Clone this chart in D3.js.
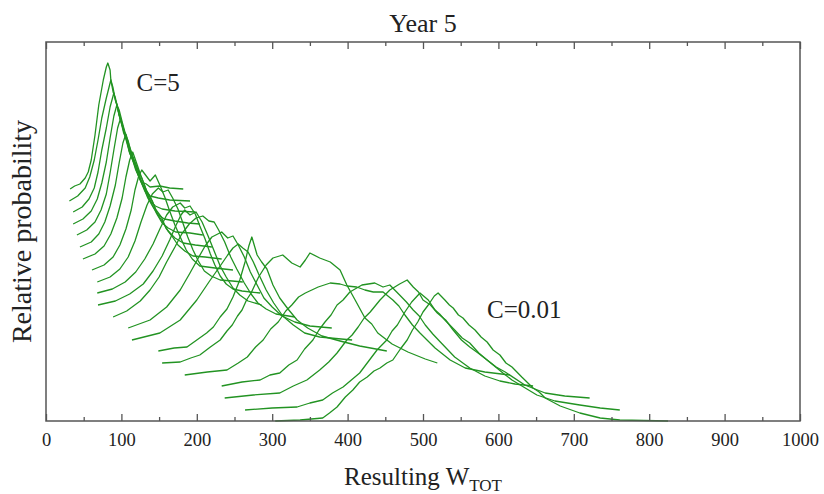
<!DOCTYPE html>
<html>
<head>
<meta charset="utf-8">
<script src="https://cdn.jsdelivr.net/npm/d3@7"></script>
<style>
  body { margin: 0; background: #fff; }
  text { font-family: 'Liberation Serif', 'Times New Roman', serif; fill: #222; }
</style>
</head>
<body>
<div id="chart"></div>
<script>
var margin = { top: 42, left: 46, right: 24, bottom: 73 }
var width = 824 - margin.left - margin.right
var height = 494 - margin.top - margin.bottom

// tick values on the W axis
var xTicks = [0, 100, 200, 300, 400, 500, 600, 700, 800, 900, 1000]
var xMinorTicks = [50, 150, 250, 350, 450, 550, 650, 750, 850, 950]

// vertical offset of each curve (top curve C=5 ... bottom curve C=0.01)
var offsets = [232, 220, 209, 197, 186, 174, 162, 151, 139, 128, 116, 104, 93, 81, 70, 58, 46, 35, 23, 11, 0]

// each curve: [W, relative probability above its own baseline]
var curves = [
  [[32,0],[38,3],[45,5],[52,11],[56,17],[60,29],[65,54],[70,84],[76,109],[80,122],[82,126],[85,119],[86,109],[89,101],[92,89],[94,85],[97,74],[99,69],[103,56],[107,49],[111,36],[115,29],[119,19],[123,13],[127,7],[133,5],[138,2],[151,3],[164,1],[182,0]],
  [[31,0],[42,5],[52,13],[58,24],[64,41],[69,61],[74,83],[80,103],[84,115],[86,121],[89,109],[92,103],[97,86],[103,70],[111,48],[118,36],[125,21],[131,12],[138,5],[149,3],[164,1],[191,0]],
  [[36,0],[48,5],[57,13],[64,24],[69,40],[74,62],[80,84],[85,105],[90,119],[93,109],[97,102],[101,90],[106,76],[111,60],[118,46],[125,32],[131,21],[138,11],[145,6],[154,3],[171,1],[198,0]],
  [[36,0],[49,5],[60,13],[68,25],[74,41],[80,62],[85,86],[90,108],[94,119],[98,106],[103,95],[109,79],[115,66],[122,49],[129,38],[135,26],[142,17],[149,9],[157,5],[171,3],[188,1],[204,0]],
  [[41,0],[54,5],[65,13],[73,25],[80,41],[85,62],[90,85],[95,107],[99,117],[103,105],[109,94],[114,79],[121,67],[127,52],[134,42],[141,30],[147,21],[154,12],[162,7],[172,3],[191,2],[208,0]],
  [[45,0],[60,5],[70,13],[78,25],[85,41],[92,62],[97,84],[102,104],[106,113],[110,102],[115,91],[121,79],[127,69],[134,55],[141,46],[147,34],[154,26],[162,16],[171,9],[182,4],[198,2],[220,0]],
  [[49,0],[65,5],[77,13],[86,25],[94,41],[101,61],[106,82],[111,99],[115,107],[121,94],[126,83],[133,69],[139,61],[146,49],[153,42],[159,31],[167,23],[175,14],[184,8],[195,3],[211,2],[233,0]],
  [[61,0],[77,5],[89,13],[98,25],[106,41],[113,60],[118,80],[123,94],[127,100],[133,94],[138,89],[145,95],[151,85],[158,72],[164,59],[171,45],[178,33],[186,20],[194,11],[204,4],[224,2],[248,0]],
  [[68,0],[85,5],[98,13],[109,25],[118,41],[126,60],[134,77],[141,88],[149,94],[155,90],[162,92],[168,84],[175,73],[182,58],[188,45],[195,32],[202,21],[210,11],[219,6],[231,2],[247,1],[261,0]],
  [[68,0],[88,4],[105,11],[119,21],[131,34],[142,49],[151,64],[160,78],[168,86],[178,90],[184,85],[191,87],[198,79],[204,67],[211,54],[218,39],[224,28],[231,17],[239,9],[248,4],[260,2],[284,0]],
  [[69,0],[92,4],[111,11],[129,21],[142,34],[154,49],[164,65],[172,79],[179,90],[184,95],[191,90],[199,93],[207,83],[215,69],[223,54],[231,39],[239,28],[248,17],[257,10],[268,4],[286,0]],
  [[89,0],[107,6],[125,16],[138,27],[150,40],[160,55],[171,70],[180,83],[190,93],[199,99],[208,101],[216,96],[223,95],[229,87],[237,75],[245,60],[253,48],[263,34],[272,23],[281,14],[292,8],[305,3],[330,0]],
  [[109,0],[138,8],[160,21],[178,38],[191,55],[202,70],[211,82],[220,91],[233,96],[241,90],[248,92],[255,83],[263,71],[271,56],[280,43],[289,30],[300,21],[313,12],[330,6],[350,2],[379,0]],
  [[114,0],[151,7],[178,20],[200,40],[217,59],[231,74],[241,85],[248,92],[255,96],[261,92],[268,88],[275,78],[282,66],[292,50],[302,37],[314,24],[328,15],[343,7],[363,3],[406,0]],
  [[149,0],[170,3],[187,4],[200,11],[213,18],[222,24],[231,34],[240,42],[248,54],[257,71],[264,89],[269,105],[273,114],[280,96],[286,89],[293,82],[301,66],[310,53],[321,42],[333,31],[347,23],[366,15],[390,10],[416,5],[452,0]],
  [[154,0],[178,1],[192,5],[204,8],[218,16],[231,23],[240,32],[247,38],[254,47],[260,53],[266,63],[272,70],[282,86],[292,98],[301,105],[314,108],[326,100],[337,96],[344,103],[350,110],[363,105],[377,101],[390,93],[399,78],[410,63],[423,45],[432,39],[440,30],[459,19],[480,11],[503,4],[519,0]],
  [[184,0],[214,3],[240,5],[255,12],[267,18],[278,28],[288,35],[298,46],[308,53],[318,64],[326,70],[335,78],[344,82],[361,88],[377,92],[390,91],[399,89],[412,88],[423,85],[434,83],[447,83],[460,75],[468,69],[476,60],[486,50],[496,42],[516,27],[536,15],[556,7],[582,3],[615,0]],
  [[233,0],[260,4],[284,6],[297,11],[310,13],[322,21],[333,26],[343,37],[354,46],[362,56],[370,64],[378,71],[386,81],[394,86],[403,94],[419,101],[436,103],[447,99],[456,101],[469,91],[478,84],[487,76],[495,70],[503,61],[513,52],[523,44],[542,29],[562,18],[582,10],[602,5],[622,2],[646,0]],
  [[237,0],[275,3],[310,5],[328,12],[346,18],[363,28],[375,36],[386,45],[399,58],[406,63],[414,71],[422,80],[430,86],[443,98],[456,108],[469,114],[479,118],[487,111],[494,106],[500,98],[510,93],[519,85],[530,78],[540,68],[551,58],[562,51],[573,45],[585,38],[597,31],[609,26],[635,13],[662,5],[688,2],[721,0]],
  [[264,0],[300,2],[333,3],[350,7],[367,10],[380,17],[394,23],[405,30],[416,37],[428,49],[439,60],[452,70],[459,79],[466,85],[476,98],[485,108],[496,117],[507,110],[516,100],[522,96],[529,90],[542,80],[552,72],[562,67],[574,57],[585,50],[606,37],[618,30],[629,25],[651,15],[675,9],[708,5],[735,2],[761,0]],
  [[304,0],[337,1],[367,3],[376,8],[386,14],[397,24],[407,31],[416,39],[426,44],[435,50],[443,53],[452,58],[460,61],[470,72],[479,81],[486,91],[493,99],[500,109],[507,116],[515,125],[520,128],[529,121],[535,116],[540,113],[547,106],[553,103],[561,96],[569,91],[577,84],[585,79],[593,71],[602,66],[610,58],[618,54],[631,44],[646,33],[654,29],[662,23],[682,15],[708,8],[735,3],[761,1],[825,0]]
]

// curve labels: [W, y value, text]
var curveLabels = [[120, 330, 'C=5'], [585, 103, 'C=0.01']]

var svg = d3
  .select('#chart')
  .append('svg')
  .attr('width', width + margin.left + margin.right)
  .attr('height', height + margin.top + margin.bottom)

var g = svg
  .append('g')
  .attr('transform', 'translate(' + margin.left + ',' + margin.top + ')')

var x = d3.scaleLinear().domain([0, 1000]).range([0, width])
var y = d3.scaleLinear().domain([0, 379]).range([height, 0])

var line = d3
  .line()
  .x(d => x(d[0]))
  .y(d => y(d[1]))

// the curves, each lifted by its offset
curves.forEach(function(pts, i) {
  g.append('path')
    .datum(pts.map(p => [p[0], offsets[i] + p[1]]))
    .attr('d', line)
    .attr('fill', 'none')
    .attr('stroke', '#229322')
    .attr('stroke-width', 1.3)
    .attr('stroke-linejoin', 'round')
})

// bottom axis, major + minor ticks pointing inward
var bottomAxis = g.append('g')
  .attr('transform', 'translate(0,' + height + ')')
  .call(d3.axisBottom(x).tickValues(xTicks).tickSizeInner(-7).tickSizeOuter(0).tickPadding(12).tickFormat(d3.format('d')))
bottomAxis.select('.domain').remove()
bottomAxis.selectAll('text').attr('font-size', 18.5).style('font-family', "'Liberation Serif', serif").attr('fill', '#333')

var bottomMinor = g.append('g')
  .attr('transform', 'translate(0,' + height + ')')
  .call(d3.axisBottom(x).tickValues(xMinorTicks).tickSizeInner(-4).tickSizeOuter(0).tickFormat(''))
bottomMinor.select('.domain').remove()

// top axis, ticks only
var topAxis = g.append('g')
  .call(d3.axisTop(x).tickValues(xTicks).tickSizeInner(-7).tickSizeOuter(0).tickFormat(''))
topAxis.select('.domain').remove()

var topMinor = g.append('g')
  .call(d3.axisTop(x).tickValues(xMinorTicks).tickSizeInner(-4).tickSizeOuter(0).tickFormat(''))
topMinor.select('.domain').remove()

g.selectAll('.tick line').attr('stroke', '#555').attr('stroke-width', 1.3)

// frame
g.append('rect')
  .attr('width', width)
  .attr('height', height)
  .attr('fill', 'none')
  .attr('stroke', '#555')
  .attr('stroke-width', 1.5)

// labels on curves
g.selectAll('.clabel')
  .data(curveLabels)
  .enter()
  .append('text')
  .attr('class', 'clabel')
  .attr('x', d => x(d[0]))
  .attr('y', d => y(d[1]))
  .attr('font-size', 25)
  .text(d => d[2])

// title
svg.append('text')
  .attr('x', margin.left + width / 2)
  .attr('y', 32)
  .attr('text-anchor', 'middle')
  .attr('font-size', 26)
  .text('Year 5')

// x axis title with subscript
var xt = svg.append('text')
  .attr('x', margin.left + width / 2)
  .attr('y', 485)
  .attr('text-anchor', 'middle')
  .attr('font-size', 25)
xt.append('tspan').text('Resulting W')
xt.append('tspan').attr('font-size', 17).attr('dy', 6).text('TOT')

// y axis title
svg.append('text')
  .attr('transform', 'translate(31,' + (margin.top + height / 2) + ') rotate(-90)')
  .attr('text-anchor', 'middle')
  .attr('font-size', 28)
  .text('Relative probability')
</script>
</body>
</html>
